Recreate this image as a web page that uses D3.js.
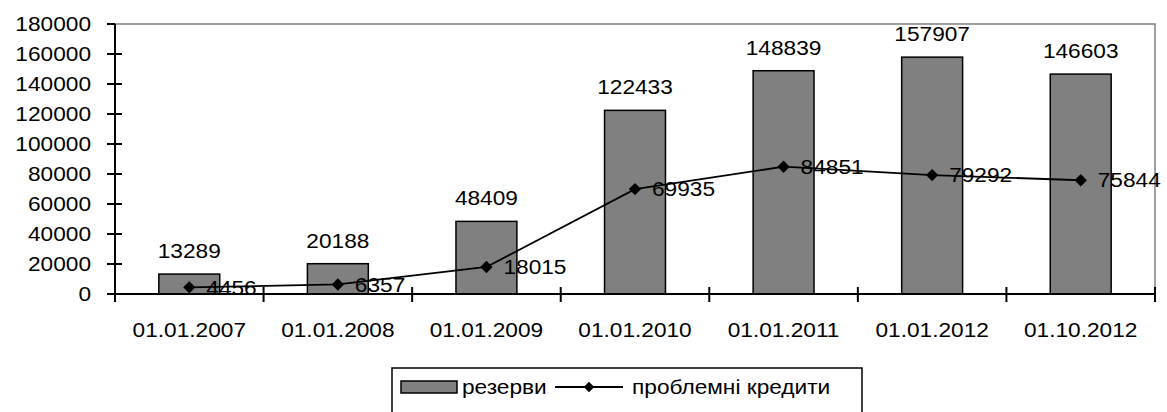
<!DOCTYPE html>
<html><head><meta charset="utf-8">
<script src="https://cdn.jsdelivr.net/npm/d3@7"></script>
<style>body{margin:0;background:#fff}svg{display:block}text{font-family:"Liberation Sans",Arial,sans-serif;fill:#000}</style>
</head><body><svg id="c" width="1167" height="412"></svg>
<script>
const categories = ["01.01.2007","01.01.2008","01.01.2009","01.01.2010","01.01.2011","01.01.2012","01.10.2012"];
const reserves = [13289,20188,48409,122433,148839,157907,146603];
const problemLoans = [4456,6357,18015,69935,84851,79292,75844];
const yTicks = [0,20000,40000,60000,80000,100000,120000,140000,160000,180000];
const seriesNames = ["резерви","проблемні кредити"];

const svg = d3.select("#c");
const L=115, R=1155, T=24, B=294;
const fs=21, sx=1.08;
const x = d3.scaleBand().domain(categories).range([L,R]).padding(0);
const y = d3.scaleLinear().domain([0,180000]).range([B,T]);
const bw = x.bandwidth()*0.41;
const cx = d => x(d)+x.bandwidth()/2;

function txt(g, px, py, s, anchor, baseline){
  return g.append("text").attr("transform",`translate(${px},${py}) scale(${sx},1)`)
    .attr("text-anchor",anchor).attr("dominant-baseline",baseline||"auto")
    .attr("font-size",fs).text(s);
}

// plot border (top/right)
svg.append("path").attr("d",`M${L},${T}H${R}V${B}`).attr("fill","none").attr("stroke","#808080").attr("stroke-width",1.5);

// bars
svg.selectAll("rect.bar").data(categories).enter().append("rect")
  .attr("x",(d)=>cx(d)-bw/2).attr("width",bw)
  .attr("y",(d,i)=>y(reserves[i])).attr("height",(d,i)=>B-y(reserves[i]))
  .attr("fill","#808080").attr("stroke","#000").attr("stroke-width",1.5);

// axes
const ax = svg.append("g");
ax.append("line").attr("x1",L).attr("x2",L).attr("y1",T).attr("y2",B).attr("stroke","#000").attr("stroke-width",2);
ax.append("line").attr("x1",L).attr("x2",R).attr("y1",B).attr("y2",B).attr("stroke","#000").attr("stroke-width",2);
yTicks.forEach(t=>{
  ax.append("line").attr("x1",L-8).attr("x2",t===180000?L:L+7).attr("y1",y(t)).attr("y2",y(t)).attr("stroke","#000").attr("stroke-width",2);
  txt(ax, 91, y(t), d3.format("d")(t), "end","central");
});
const edges = categories.map(c=>x(c)).concat([R]);
edges.forEach(e=>{
  ax.append("line").attr("x1",e).attr("x2",e).attr("y1",B-7).attr("y2",B+8).attr("stroke","#000").attr("stroke-width",2);
});
categories.forEach(c=>txt(ax, cx(c), 330, c, "middle","central"));

// bar labels
categories.forEach((c,i)=>txt(svg, cx(c), y(reserves[i])-16, String(reserves[i]), "middle"));

// line
const line = d3.line().x((d,i)=>cx(categories[i])).y(d=>y(d));
svg.append("path").attr("d",line(problemLoans)).attr("fill","none").attr("stroke","#000").attr("stroke-width",1.8);
const sym = d3.symbol(d3.symbolSquare, 76)();
categories.forEach((c,i)=>{
  svg.append("path").attr("d",sym).attr("transform",`translate(${cx(c)},${y(problemLoans[i])}) rotate(45)`).attr("fill","#000");
  txt(svg, cx(c)+17, y(problemLoans[i]), String(problemLoans[i]), "start","central");
});

// legend
const lg = svg.append("g");
lg.append("rect").attr("x",392).attr("y",368).attr("width",470).attr("height",60).attr("fill","#fff").attr("stroke","#000").attr("stroke-width",1.5);
lg.append("rect").attr("x",401).attr("y",381).attr("width",56).attr("height",12).attr("fill","#808080").attr("stroke","#000").attr("stroke-width",1.5);
txt(lg, 462, 387, seriesNames[0], "start","central");
lg.append("line").attr("x1",555).attr("x2",623).attr("y1",387).attr("y2",387).attr("stroke","#000").attr("stroke-width",1.8);
lg.append("path").attr("d",d3.symbol(d3.symbolSquare, 56)()).attr("transform","translate(589,387) rotate(45)").attr("fill","#000");
txt(lg, 632, 387, seriesNames[1], "start","central");
</script></body></html>
